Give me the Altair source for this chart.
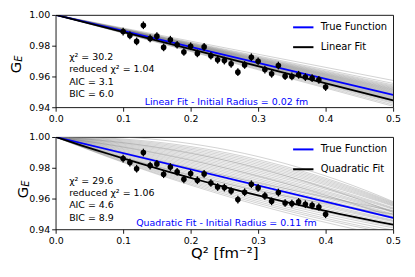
import altair as alt
import pandas as pd
import numpy as np

# ---------------- data ----------------
q2 = [0.10, 0.11, 0.12, 0.13, 0.14, 0.15, 0.16, 0.17, 0.18, 0.19, 0.20,
      0.21, 0.22, 0.23, 0.24, 0.25, 0.26, 0.27, 0.28, 0.29, 0.30,
      0.31, 0.32, 0.33, 0.34, 0.35, 0.36, 0.37, 0.38, 0.39, 0.40]
top_ge = [0.9892, 0.9867, 0.9828, 0.9933, 0.9847, 0.9862, 0.9789, 0.9839, 0.9806, 0.9759, 0.9796,
          0.9750, 0.9792, 0.9735, 0.9708, 0.9703, 0.9682, 0.9628, 0.9675, 0.9725, 0.9699,
          0.9645, 0.9617, 0.9671, 0.9602, 0.9600, 0.9611, 0.9596, 0.9589, 0.9578, 0.9531]
bot_ge = [0.9860, 0.9834, 0.9794, 0.9899, 0.9814, 0.9825, 0.9758, 0.9805, 0.9773, 0.9725, 0.9762,
          0.9719, 0.9760, 0.9701, 0.9675, 0.9671, 0.9649, 0.9593, 0.9641, 0.9693, 0.9669,
          0.9617, 0.9582, 0.9639, 0.9571, 0.9567, 0.9578, 0.9563, 0.9556, 0.9545, 0.9498]
err = 0.0025

q_ends = [0.0, 0.5]
top_true_end = 0.948
top_fit_end = 0.9445
# bootstrap linear fits: value reached at Q^2 = 0.5
top_gray_end = [0.9406, 0.9415, 0.9425, 0.9432, 0.9438, 0.9442, 0.9446, 0.9450, 0.9454, 0.9458,
                0.9462, 0.9466, 0.9470, 0.9474, 0.9478, 0.9482, 0.9486, 0.9490, 0.9494, 0.9498,
                0.9502, 0.9506, 0.9510, 0.9514, 0.9518, 0.9522, 0.9527, 0.9532, 0.9538, 0.9545,
                0.9555, 0.9574]

bot_true_end = 0.9474
bot_fit_mid, bot_fit_end = 0.9676, 0.9430
# bootstrap quadratic fits: values at Q^2 = 0.25 and Q^2 = 0.5
bot_gray_mid = [0.992, 0.990, 0.989, 0.988, 0.987, 0.986, 0.985, 0.984, 0.983, 0.982, 0.981,
                0.980, 0.979, 0.978, 0.977, 0.976, 0.975, 0.974, 0.973, 0.972, 0.971, 0.970,
                0.969, 0.968, 0.967, 0.966, 0.965, 0.964, 0.963, 0.962, 0.985, 0.980, 0.975, 0.970]
bot_gray_end = [0.958, 0.9575, 0.957, 0.9565, 0.956, 0.9555, 0.955, 0.954, 0.9535, 0.953, 0.952,
                0.9515, 0.951, 0.950, 0.9495, 0.949, 0.948, 0.9475, 0.947, 0.946, 0.9455, 0.945,
                0.944, 0.943, 0.942, 0.941, 0.9395, 0.938, 0.937, 0.935, 0.951, 0.948, 0.952, 0.950]

x_ticks = [0.0, 0.1, 0.2, 0.3, 0.4, 0.5]
y_ticks = [0.94, 0.96, 0.98, 1.00]

grid = np.linspace(0, 0.5, 26)


def quad(mid, end):
    b = 8 * ((end - 1) - 2 * (mid - 1))
    a = 4 * (mid - 1) - 0.25 * b
    return 1 + a * grid + b * grid ** 2


W, H = 340, 93
BLUE = "#0000ff"
FS = 9.5

xs = alt.Scale(domain=[0, 0.5], nice=False, zero=False)
ys = alt.Scale(domain=[0.94, 1.0], nice=False, zero=False)


def panel(points, gray_df, lines_df, labels, stats, caption, xtitle, g_pos, e_pos, gray_op):
    xaxis = alt.Axis(values=x_ticks, format=".1f", title=xtitle, labelOverlap=False)
    yaxis = alt.Axis(values=y_ticks, tickCount=4, format=".2f", title=None,
                     labelOverlap=False, labelFlush=False, labelBound=False)
    X = alt.X("q:Q", scale=xs, axis=xaxis)
    Y = alt.Y("g:Q", scale=ys, axis=yaxis)
    Ylo = alt.Y("lo:Q", scale=ys, axis=yaxis)

    gray = alt.Chart(gray_df).mark_line(color="#808080", strokeWidth=0.7, opacity=gray_op, clip=True).encode(
        x=X, y=Y, detail="id:N")
    lines = alt.Chart(lines_df).mark_line(strokeWidth=1.8, clip=True).encode(
        x=X, y=Y,
        color=alt.Color("series:N", sort=labels,
                        scale=alt.Scale(domain=labels, range=[BLUE, "#000000"]),
                        legend=alt.Legend(orient="none", legendX=238, legendY=1, title=None,
                                          symbolType="stroke", symbolStrokeWidth=2, symbolSize=420,
                                          labelFontSize=10, labelColor="black", padding=0,
                                          rowPadding=3, labelOffset=6)),
        detail="series:N")
    pdf = pd.DataFrame({"q": q2, "g": points})
    pdf["lo"] = pdf["g"] - err
    pdf["hi"] = pdf["g"] + err
    bars = alt.Chart(pdf).mark_rule(color="black", strokeWidth=1.3).encode(x=X, y=Ylo, y2="hi:Q")
    dots = alt.Chart(pdf).mark_circle(color="black", opacity=1, size=32).encode(x=X, y=Y)

    sdf = pd.DataFrame({"q": [0.02] * 4, "g": stats[1], "t": stats[0]})
    stxt = alt.Chart(sdf).mark_text(align="left", baseline="middle", fontSize=FS, color="black").encode(
        x=X, y=Y, text="t:N")
    cdf = pd.DataFrame({"q": [0.253], "g": [caption[1]], "t": [caption[0]]})
    ctxt = alt.Chart(cdf).mark_text(align="center", baseline="middle", fontSize=FS, color=BLUE).encode(
        x=X, y=Y, text="t:N")
    gdf = pd.DataFrame({"t": ["G"]})
    gt = alt.Chart(gdf).mark_text(angle=270, fontSize=15, align="center", baseline="middle",
                                  color="black").encode(x=alt.value(g_pos[0]), y=alt.value(g_pos[1]), text="t:N")
    edf = pd.DataFrame({"t": ["E"]})
    et = alt.Chart(edf).mark_text(angle=270, fontSize=10, fontStyle="italic", align="center",
                                  baseline="middle", color="black").encode(
        x=alt.value(e_pos[0]), y=alt.value(e_pos[1]), text="t:N")

    return alt.layer(gray, lines, bars, dots, stxt, ctxt, gt, et).properties(width=W, height=H)


rows = []
for i, e in enumerate(top_gray_end):
    for q, g in zip(q_ends, [1.0, e]):
        rows.append({"id": i, "q": q, "g": g})
top_gray = pd.DataFrame(rows)
top_lines = pd.DataFrame({
    "series": ["True Function", "True Function", "Linear Fit", "Linear Fit"],
    "q": q_ends + q_ends,
    "g": [1.0, top_true_end, 1.0, top_fit_end]})

rows = []
for i, (m, e) in enumerate(zip(bot_gray_mid, bot_gray_end)):
    for q, g in zip(grid, quad(m, e)):
        rows.append({"id": i, "q": q, "g": g})
bot_gray = pd.DataFrame(rows)
fit_curve = quad(bot_fit_mid, bot_fit_end)
bot_lines = pd.concat([
    pd.DataFrame({"series": "True Function", "q": q_ends, "g": [1.0, bot_true_end]}),
    pd.DataFrame({"series": "Quadratic Fit", "q": grid, "g": fit_curve})])

top_stats = (["χ² = 30.2", "reduced χ² = 1.04", "AIC = 3.1", "BIC = 6.0"],
             [0.9728, 0.9646, 0.9563, 0.9484])
bot_stats = (["χ² = 29.6", "reduced χ² = 1.06", "AIC = 4.6", "BIC = 8.9"],
             [0.9714, 0.9638, 0.9555, 0.9472])

top = panel(top_ge, top_gray, top_lines, ["True Function", "Linear Fit"], top_stats,
            ("Linear Fit - Initial Radius = 0.02 fm", 0.9435), None, (-40, 53), (-36.5, 44), 0.5)
bot = panel(bot_ge, bot_gray, bot_lines, ["True Function", "Quadratic Fit"], bot_stats,
            ("Quadratic Fit - Initial Radius = 0.11 fm", 0.9444), "Q² [fm⁻²]", (-33, 56), (-29.5, 47), 0.5)

chart = alt.vconcat(top, bot, spacing=8).resolve_scale(color="independent").properties(
    padding={"left": 0, "top": 0, "right": 5, "bottom": 5}
).configure(font="DejaVu Sans").configure_view(
    stroke="#000000", strokeWidth=0.9
).configure_axis(
    domain=False, grid=False, ticks=True, tickSize=4, tickColor="black", tickWidth=0.9,
    labelFontSize=FS, labelColor="black", labelPadding=2, labelFont="DejaVu Sans",
    labelOverlap=False, labelFlush=False, labelBound=False,
    titleFontSize=15, titleFontWeight="normal", titleColor="black", titlePadding=1,
    titleFont="DejaVu Sans"
)

chart.save("out.html", embed_options={"renderer": "svg", "actions": False})
